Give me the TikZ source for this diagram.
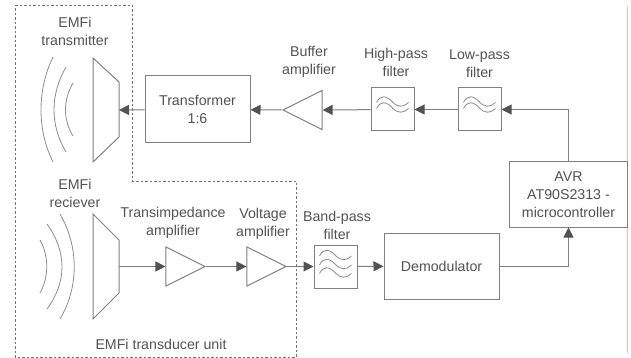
\documentclass[tikz,border=0pt]{standalone}
\usepackage{fontspec}
\setmainfont{Liberation Sans}
\usetikzlibrary{shapes.geometric, arrows.meta, positioning}

\begin{document}
\begin{tikzpicture}[
    x=1pt, y=-1pt,
    line width=1pt,
    every node/.style={align=center, font=\fontsize{14.2}{18}\selectfont, text=black!68},
    block/.style={rectangle, draw=black!50, fill=white, inner sep=0pt},
    filterbox/.style={block, minimum width=43pt, minimum height=43pt},
    amp/.style={isosceles triangle, isosceles triangle stretches, draw=black!50, inner sep=0pt, minimum width=39pt, minimum height=39pt},
    speakerbody/.style={draw=black!50, line join=miter},
    link/.style={draw=black!50, -{Triangle[length=10pt, width=10pt, color=black!68]}},
    wave/.style={draw=black!45, line width=0.8pt},
    unit/.style={draw=black!55, dash pattern=on 2.5pt off 2pt, line width=0.6pt},
    tilde/.pic={\draw[wave] (-16,0) .. controls (-12,-8) and (-6,-7) .. (0,-0.5) .. controls (5,5) and (11,5) .. (16,0);}
]
% edge line of the page
\draw[red!30, line width=0.7pt] (627,6) -- (627,353);

% signal blocks
\node[block, minimum width=105pt, minimum height=67pt] (transformer) at (197.5,109.5) {Transformer\\1:6};
\node[amp, shape border rotate=180] (buffer) at (310,110) {};
\node[filterbox] (highpass) at (392.5,109.5) {};
\node[filterbox] (lowpass) at (479.5,109.5) {};
\node[block, minimum width=118pt, minimum height=65pt] (avr) at (568.5,194.5) {AVR\\AT90S2313 -\\microcontroller};
\node[block, minimum width=115pt, minimum height=66pt] (demod) at (441.5,266) {Demodulator};
\node[filterbox] (bandpass) at (335.5,266.5) {};
\node[amp] (voltage) at (259,266.5) {};
\node[amp] (transimp) at (178,266.5) {};
\coordinate (txspeaker) at (119,110);
\coordinate (rxspeaker) at (119,266.5);

% speakers
\draw[speakerbody] (93,58) -- (119,82) -- (119,137) -- (93,162) -- cycle;
\draw[speakerbody] (93,214) -- (119,240) -- (119,293) -- (93,319) -- cycle;

% labels
\node[anchor=south] (txlabel) at (75,49) {EMFi\\transmitter};
\node[anchor=south] (rxlabel) at (75,211) {EMFi\\reciever};
\node[anchor=south] (bufferlabel) at (309,81) {Buffer\\amplifier};
\node[above=7pt of highpass, xshift=3.5pt] (highlabel) {High-pass\\filter};
\node[above=6pt of lowpass] (lowlabel) {Low-pass\\filter};
\node[anchor=south] (transimplabel) at (173,242) {Transimpedance\\amplifier};
\node[anchor=south] (voltagelabel) at (263,243) {Voltage\\amplifier};
\node[above=1pt of bandpass, xshift=1.5pt] (bandlabel) {Band-pass\\filter};
\node (unitlabel) at (161,344) {EMFi transducer unit};

% sound waves
\draw[wave] (53,57) .. controls (37,90) and (37,130) .. (53,162);
\draw[wave] (66,67) .. controls (50,95) and (50,125) .. (66,152);
\draw[wave] (73,83) .. controls (63,100) and (63,120) .. (73,136);
\draw[wave] (60,214) .. controls (79,247) and (79,287) .. (60,319);
\draw[wave] (47,224) .. controls (67,252) and (67,282) .. (47,309);
\draw[wave] (40,240) .. controls (49,256) and (49,277) .. (40,293);

% filter curves
\foreach \f in {highpass, lowpass} {
    \path ([shift={(0,-7)}]\f.center) pic {tilde};
    \path ([shift={(0,-1)}]\f.center) pic {tilde};
}
\path ([shift={(0,-10.5)}]bandpass.center) pic {tilde};
\path ([shift={(0,-1.5)}]bandpass.center) pic {tilde};
\path ([shift={(0,7)}]bandpass.center) pic {tilde};

% connectors
\draw[link] (avr.north) |- (lowpass.east);
\draw[link] (lowpass) -- (highpass);
\draw[link] (highpass) -- (buffer.east);
\draw[link] (buffer.apex) -- (transformer);
\draw[link] (transformer) -- (txspeaker);
\draw[link] (rxspeaker) -- (transimp.west);
\draw[link] (transimp.apex) -- (voltage.west);
\draw[link] (voltage.apex) -- (bandpass);
\draw[link] (bandpass) -- (demod);
\draw[link] (demod) -| (avr.south);

% transducer unit outline
\draw[unit] (15,5) -- (132,5) -- (132,181) -- (296,181) -- (296,357) -- (15,357) -- cycle;
\useasboundingbox (0,0) rectangle (631,358);
\end{tikzpicture}
\end{document}
